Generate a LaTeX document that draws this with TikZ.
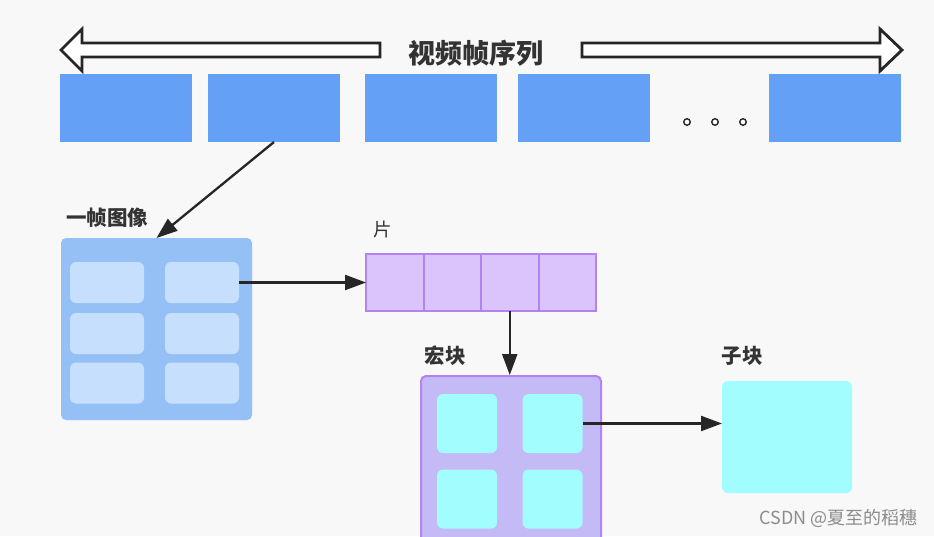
\documentclass[tikz,border=0pt]{standalone}
\usepackage{fontspec}
\newfontfamily\cjk{Noto Sans CJK SC}
\usetikzlibrary{arrows.meta}
\definecolor{bg}{HTML}{F8F8F8}
\definecolor{frameblue}{HTML}{64A0F5}
\definecolor{imgblue}{HTML}{94C0F6}
\definecolor{cellblue}{HTML}{C6DFFC}
\definecolor{slicefill}{HTML}{DAC4FB}
\definecolor{purpleline}{HTML}{B283F2}
\definecolor{mbfill}{HTML}{C4BBF6}
\definecolor{cyanfill}{HTML}{A2FEFE}
\definecolor{txt}{HTML}{333333}
\tikzset{
  box/.style={draw=none, inner sep=0pt, outer sep=0pt},
  framebox/.style={box, fill=frameblue, minimum width=132pt, minimum height=68pt},
  cell/.style={box, fill=cellblue, rounded corners=6pt, minimum width=74pt, minimum height=41pt},
  slicecell/.style={draw=purpleline, line width=2pt, fill=slicefill, inner sep=0pt, outer sep=0pt, minimum width=57.5pt, minimum height=57pt},
  cyancell/.style={box, fill=cyanfill, rounded corners=6pt, minimum width=60pt, minimum height=59pt},
  arr/.style={line width=2.3pt, draw=black!85, -{Triangle[length=21pt,width=15pt]}},
  hollow/.style={draw=black!85, line width=2.8pt, fill=white, line join=miter},
  lbl/.style={font=\cjk\bfseries\fontsize{20.5}{24}\selectfont, text=txt, inner sep=0pt},
  dot/.style={circle, draw=black!85, line width=1.4pt, fill=white, inner sep=0pt, minimum size=6.5pt}
}
\begin{document}
\begin{tikzpicture}[x=1pt,y=-1pt]
\useasboundingbox (0,0) rectangle (934,536);
\clip (0,0) rectangle (934,536);
\fill[bg] (0,0) rectangle (934,536);

% hollow arrows
\draw[hollow] (380,43) -- (82,43) -- (82,29) -- (61,50) -- (82,71) -- (82,57) -- (380,57) -- cycle;
\draw[hollow] (582,43) -- (880,43) -- (880,29) -- (902,50) -- (880,71) -- (880,57) -- (582,57) -- cycle;
\node[font=\cjk\bfseries\fontsize{27}{30}\selectfont, text=txt, inner sep=0pt] (title) at (476,53) {视频帧序列};

% frame sequence
\node[framebox] (f1) at (126,108) {};
\node[framebox] (f2) at (274,108) {};
\node[framebox] (f3) at (431,108) {};
\node[framebox] (f4) at (584,108) {};
\node[framebox] (f5) at (835,108) {};
\node[dot] (d1) at (687,122) {};
\node[dot] (d2) at (715,122) {};
\node[dot] (d3) at (743,122) {};

% one frame image
\node[lbl, anchor=west] (imglbl) at (66,218) {一帧图像};
\node[box, fill=imgblue, rounded corners=5pt, minimum width=191pt, minimum height=182pt] (img) at (156.5,329) {};
\node[cell] (c11) at (107,282.5) {};
\node[cell] (c12) at (202,282.5) {};
\node[cell] (c21) at (107,333.5) {};
\node[cell] (c22) at (202,333.5) {};
\node[cell] (c31) at (107,383) {};
\node[cell] (c32) at (202,383) {};

% slice
\node[font=\cjk\fontsize{18.5}{21}\selectfont, text=txt, inner sep=0pt] (slicelbl) at (383,229) {片};
\node[slicecell] (s1) at (394.75,282.5) {};
\node[slicecell] (s2) at (452.25,282.5) {};
\node[slicecell] (s3) at (509.75,282.5) {};
\node[slicecell] (s4) at (567.25,282.5) {};

% macroblock
\node[lbl] (mblbl) at (445,356) {宏块};
\node[draw=purpleline, line width=2pt, fill=mbfill, rounded corners=5pt, inner sep=0pt, minimum width=180pt, minimum height=200pt] (mb) at (511,476) {};
\node[cyancell] (m11) at (467,423.5) {};
\node[cyancell] (m12) at (552.5,423.5) {};
\node[cyancell] (m21) at (467,499) {};
\node[cyancell] (m22) at (552.5,499) {};

% sub block
\node[lbl] (sublbl) at (742,356) {子块};
\node[box, fill=cyanfill, rounded corners=6pt, minimum width=130pt, minimum height=112pt] (sub) at (787,437) {};

% connectors
\draw[arr] (f2.south) -- (img.north);
\draw[arr] (c12.east) -- (c12.east -| s1.west);
\draw[arr] (s3.south) -- (s3.south |- mb.north);
\draw[arr] (m12.east) -- (m12.east -| sub.west);

% watermark
\node[font=\cjk\fontsize{18}{21}\selectfont, text=black!45, anchor=east, inner sep=0pt] (wm) at (918,518) {CSDN @夏至的稻穗};
\end{tikzpicture}
\end{document}
